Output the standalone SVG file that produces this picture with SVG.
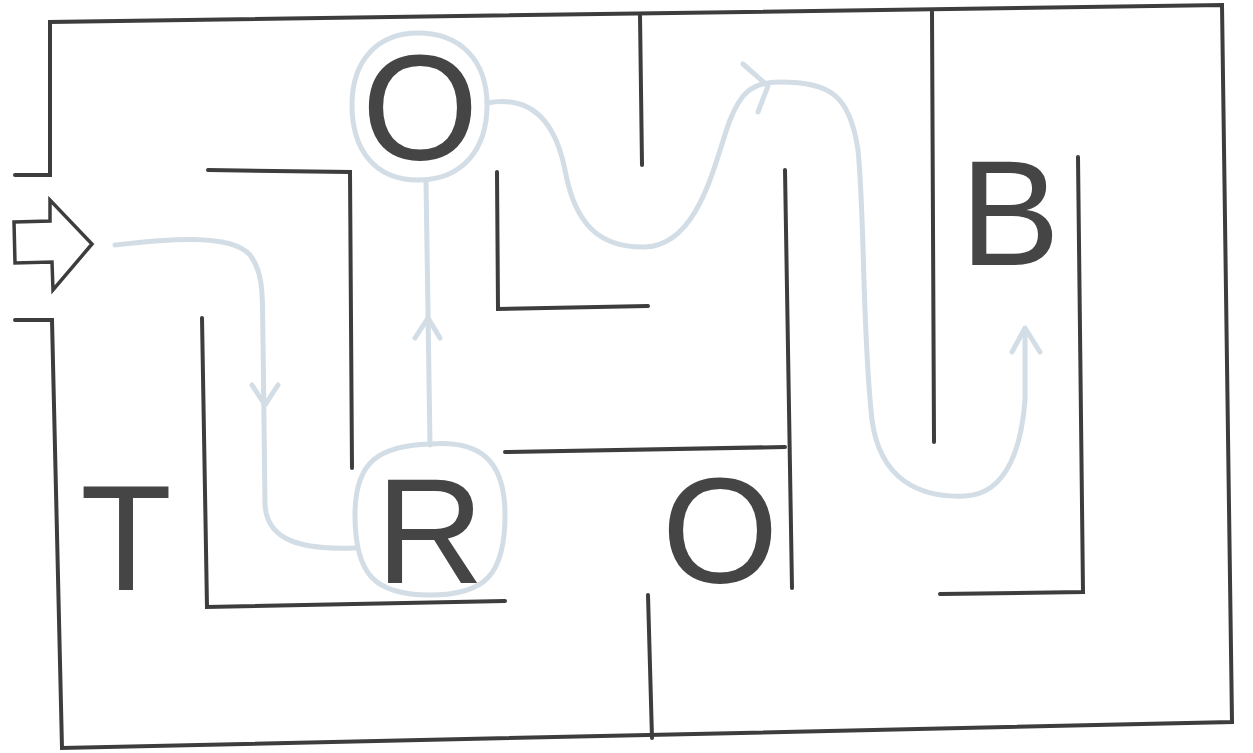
<svg xmlns="http://www.w3.org/2000/svg" width="1253" height="753" viewBox="0 0 1253 753">
<style>
.wall{fill:none;stroke:#3d3d3d;stroke-width:4;stroke-linecap:round;stroke-linejoin:miter}
.path{fill:none;stroke:#d3dde6;stroke-width:5;stroke-linecap:round;stroke-linejoin:round}
.letter{font-family:"Liberation Sans",Arial,sans-serif;font-size:150px;fill:#454545;text-anchor:middle}
</style>
<rect width="1253" height="753" fill="#ffffff"/>
<g id="walls">
<polyline class="wall" points="15,175 50,175 50,22 1222,5 1232,722 62,748 52,320 15,320"/>
<polyline class="wall" points="208,170 350,172 352,468"/>
<polyline class="wall" points="202,318 207,607 505,601"/>
<polyline class="wall" points="497,172 498,309 648,306"/>
<line class="wall" x1="640" y1="15" x2="642" y2="165"/>
<line class="wall" x1="505" y1="452" x2="785" y2="447"/>
<line class="wall" x1="785" y1="170" x2="792" y2="588"/>
<line class="wall" x1="932" y1="12" x2="934" y2="442"/>
<polyline class="wall" points="1078,157 1083,592 940,594"/>
<line class="wall" x1="648" y1="595" x2="652" y2="738"/>
</g>
<g id="entry-arrow">
<polygon points="14,222 50,221 50,200 92,244 53,290 52,262 15,263" fill="#ffffff" stroke="#3d3d3d" stroke-width="3.5" stroke-linejoin="miter"/>
</g>
<g id="route">
<path class="path" d="M115,245 C160,240 230,232 250,255 C265,275 262,300 263,340 L265,505 C267,540 300,550 355,548"/>
<polyline class="path" points="252,385 265,405 278,385"/>
<path class="path" d="M430,445 L426,180"/>
<polyline class="path" points="415,338 428,318 440,338"/>
<path class="path" d="M487,103 C530,95 555,120 565,170 C575,225 600,248 645,247 C700,245 715,160 730,120 C740,95 750,82 780,82 C830,82 850,95 858,150 C865,220 862,330 872,420 C880,480 920,498 965,496 C1010,494 1022,440 1025,400 L1025,330"/>
<polyline class="path" points="743,64 768,86 758,112"/>
<polyline class="path" points="1012,352 1025,328 1040,352"/>
</g>
<g id="node-O1">
<path class="path" d="M418,33 C460,33 487,60 487,105 C487,150 462,180 418,180 C375,180 352,150 352,105 C352,60 378,33 418,33 Z"/>
<text class="letter" x="420" y="160">O</text>
</g>
<g id="node-R">
<path class="path" d="M430,444 C480,440 505,460 505,515 C505,575 485,595 430,595 C375,595 355,575 355,515 C355,460 380,446 430,444 Z"/>
<text class="letter" x="430" y="583">R</text>
</g>
<g id="node-T">
<text class="letter" x="126" y="590">T</text>
</g>
<g id="node-O2">
<text class="letter" x="720" y="583">O</text>
</g>
<g id="node-B">
<text class="letter" x="1010" y="265">B</text>
</g>
</svg>
